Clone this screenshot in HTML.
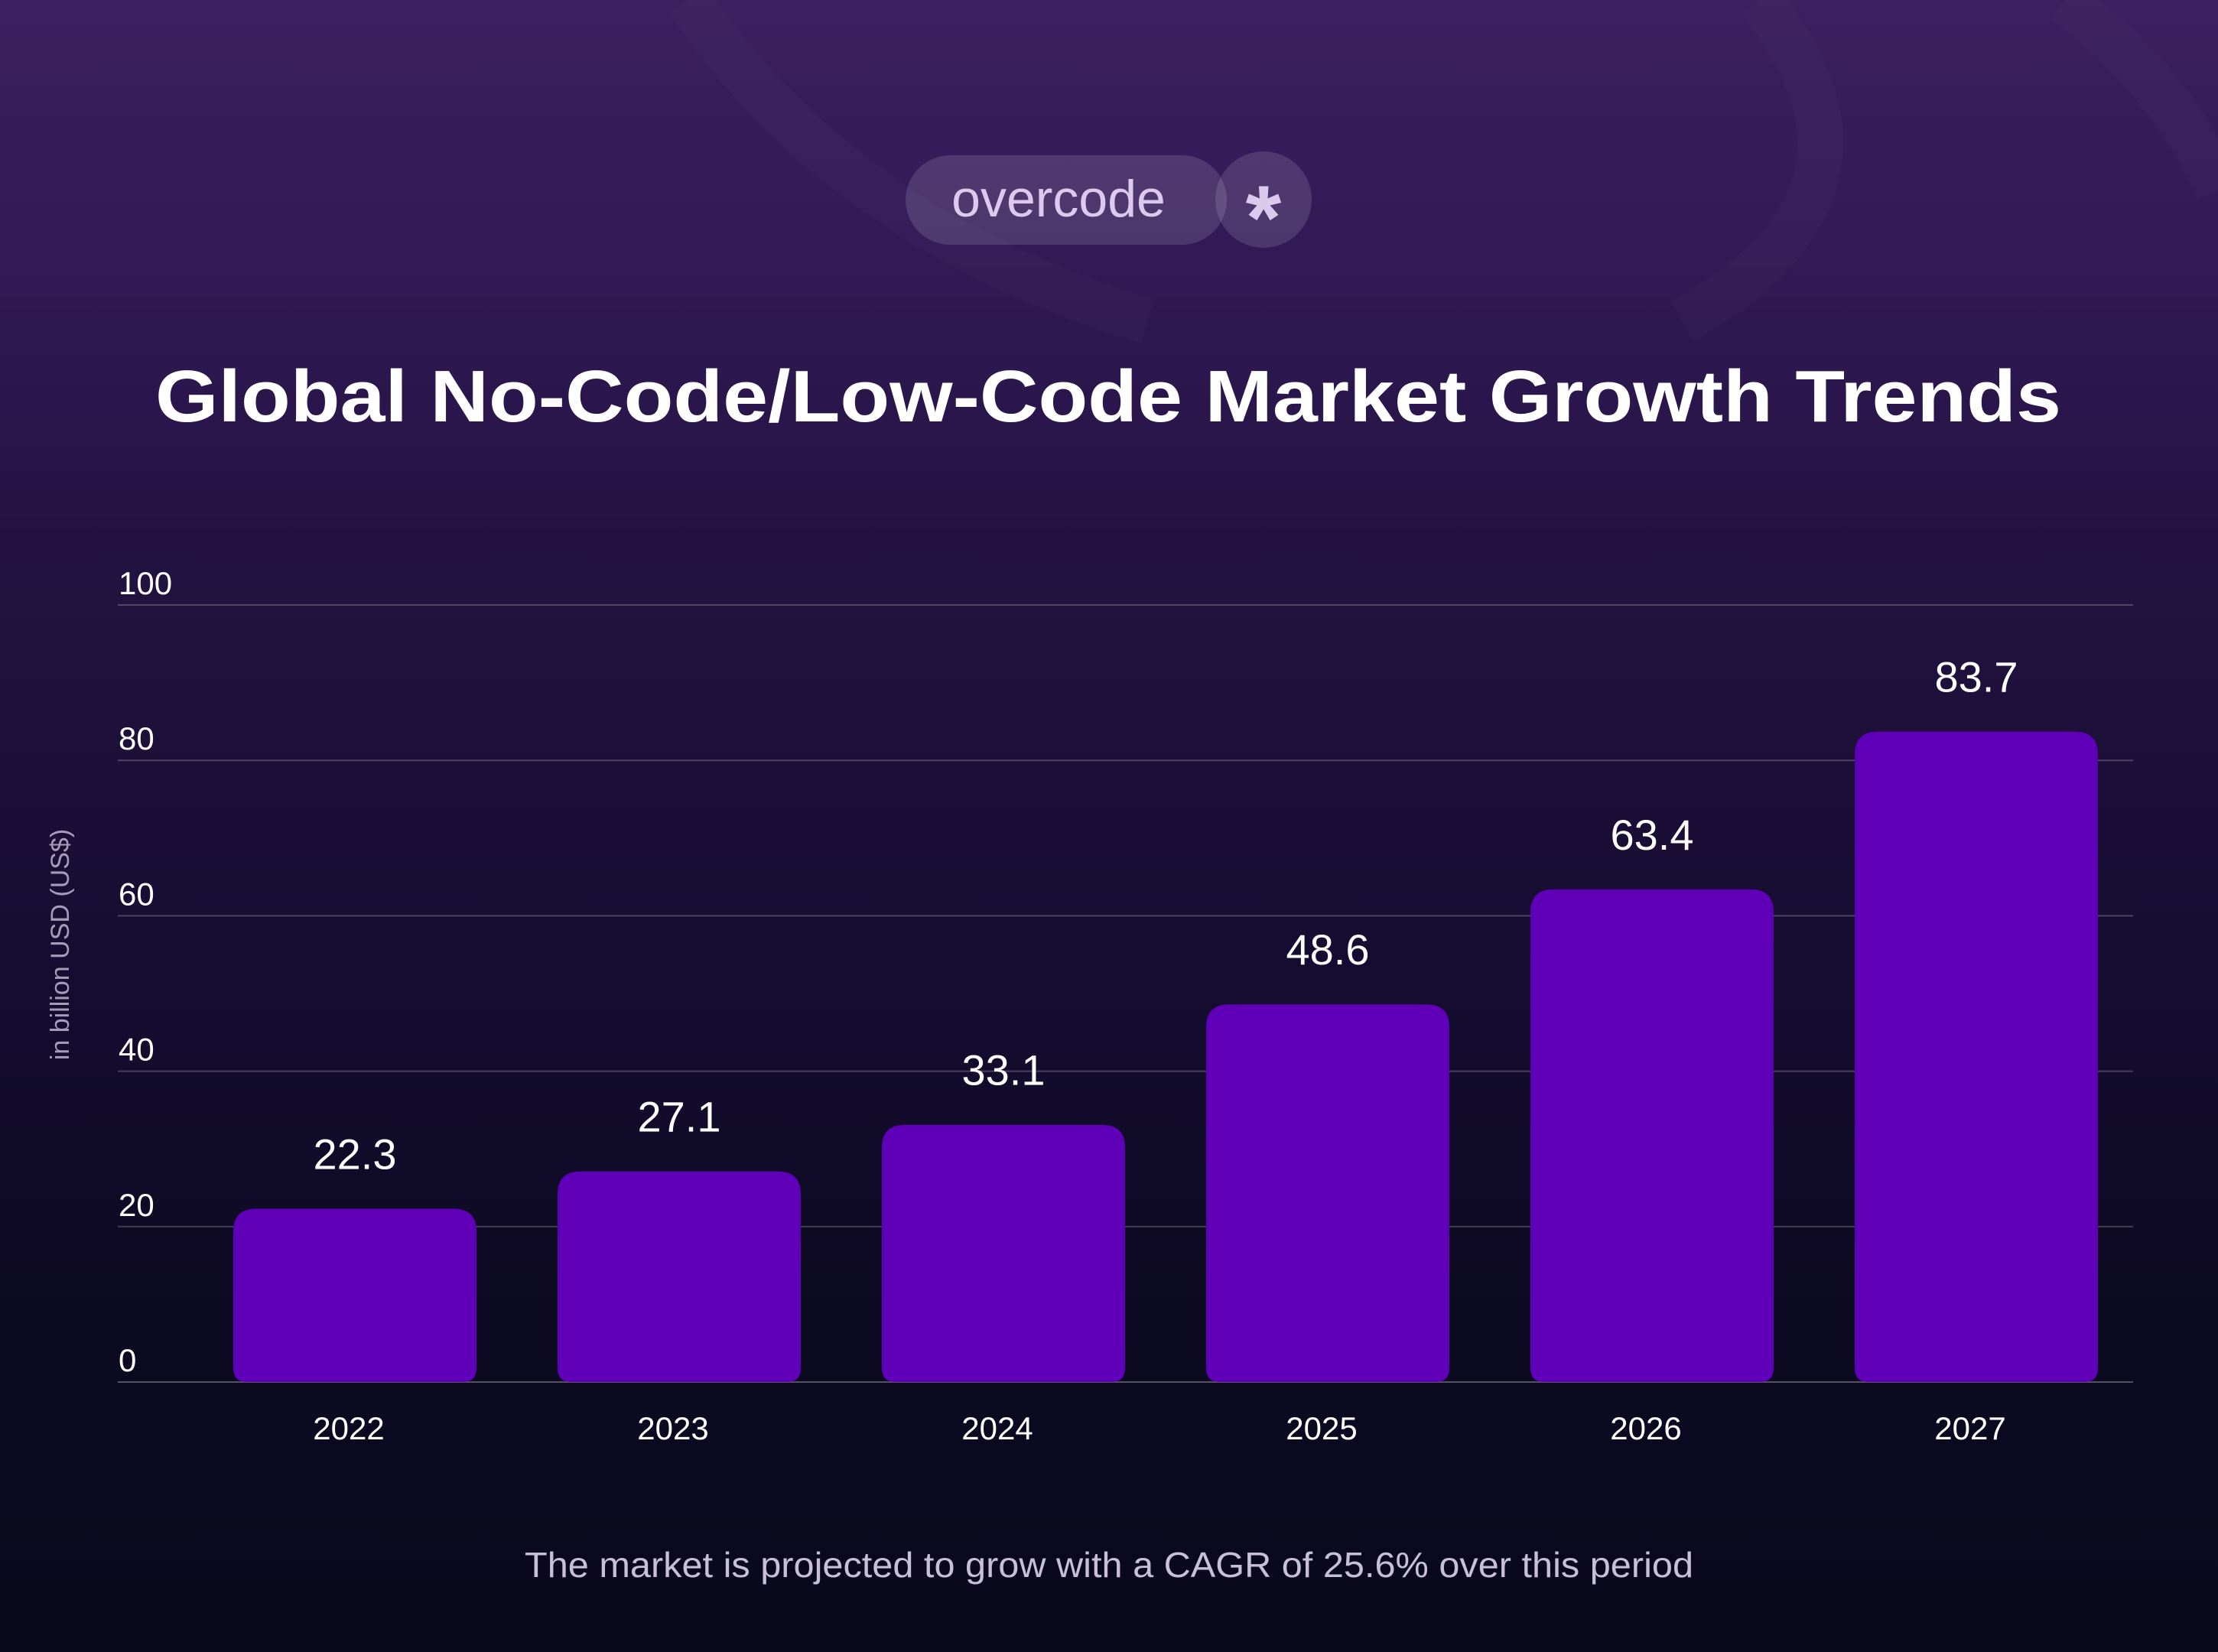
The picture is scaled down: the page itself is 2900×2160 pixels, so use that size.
<!DOCTYPE html>
<html><head><meta charset="utf-8">
<style>
html,body{margin:0;padding:0;width:2900px;height:2160px;overflow:hidden;}
body{background:linear-gradient(180deg,#3c1f60 0%,#321a57 15%,#22123f 35%,#150c30 60%,#0c0a22 80%,#09081c 100%);font-family:"Liberation Sans",sans-serif;}
svg{position:absolute;left:0;top:0;}
</style></head>
<body>
<svg id="chart" width="2900" height="2160" viewBox="0 0 2900 2160" xmlns="http://www.w3.org/2000/svg">
  <g fill="none" stroke="#ffffff" stroke-opacity="0.02" stroke-width="60">
    <path d="M900 0 Q1100 300 1500 420"/>
    <path d="M2300 0 Q2500 250 2200 420"/>
    <path d="M2700 0 Q2850 120 2900 250"/>
  </g>
  <g>
    <rect x="1184" y="203" width="420" height="117" rx="58.5" fill="#ffffff" fill-opacity="0.13"/>
    <circle cx="1652" cy="261" r="63" fill="#ffffff" fill-opacity="0.13"/>
    <text x="1384" y="283" text-anchor="middle" font-size="68" fill="#dccaee" font-family="Liberation Sans, sans-serif">overcode</text>
    <text x="1652" y="326" text-anchor="middle" font-size="120" font-weight="bold" fill="#dccaee">*</text>
  </g>
  <text x="203" y="551" textLength="2492" lengthAdjust="spacingAndGlyphs" font-size="96" font-weight="bold" fill="#ffffff">Global No-Code/Low-Code Market Growth Trends</text>
  <text transform="translate(90,1235) rotate(-90)" text-anchor="middle" font-size="34" fill="#a49cb8">in billion USD (US$)</text>
  <g id="grid"></g>
  <g id="bars"></g>
  <text x="686" y="2062" textLength="1528" lengthAdjust="spacingAndGlyphs" font-size="46" fill="#c8c0d8">The market is projected to grow with a CAGR of 25.6% over this period</text>
</svg>
<script>
const categories = ["2022","2023","2024","2025","2026","2027"];
const values = [22.3, 27.1, 33.1, 48.6, 63.4, 83.7];
const valueLabels = ["22.3","27.1","33.1","48.6","63.4","83.7"];
const ticks = [0,20,40,60,80,100];
const NS = "http://www.w3.org/2000/svg";
const y0 = 1807, yTop = 791, vmax = 100;
function yScale(v){ return y0 - (v / vmax) * (y0 - yTop); }
const bandStart = 305, bandStep = 424, barW = 318;
function xScale(i){ return bandStart + i * bandStep; }
const grid = document.getElementById('grid');
ticks.forEach(t => {
  const y = yScale(t);
  const l = document.createElementNS(NS,'line');
  l.setAttribute('x1',154); l.setAttribute('x2',2789);
  l.setAttribute('y1',y); l.setAttribute('y2',y);
  l.setAttribute('stroke','#ffffff'); l.setAttribute('stroke-opacity', t===0?'0.3':'0.22'); l.setAttribute('stroke-width','2');
  
  
  grid.appendChild(l);
  const tx = document.createElementNS(NS,'text');
  tx.setAttribute('x',155); tx.setAttribute('y',y-14);
  tx.setAttribute('font-size','42'); tx.setAttribute('fill','#ffffff');
  tx.textContent = String(t);
  
  
  grid.appendChild(tx);
});
const bars = document.getElementById('bars');
values.forEach((v,i) => {
  const x = xScale(i), y = yScale(v), r = 30, rb = 18;
  const p = document.createElementNS(NS,'path');
  p.setAttribute('d', `M${x} ${y+r} Q${x} ${y} ${x+r} ${y} L${x+barW-r} ${y} Q${x+barW} ${y} ${x+barW} ${y+r} L${x+barW} ${y0-rb} Q${x+barW} ${y0} ${x+barW-rb} ${y0} L${x+rb} ${y0} Q${x} ${y0} ${x} ${y0-rb} Z`);
  p.setAttribute('fill','#5f00b8');
  
  
  bars.appendChild(p);
  const vl = document.createElementNS(NS,'text');
  vl.setAttribute('x', x + barW/2); vl.setAttribute('y', y - 52);
  vl.setAttribute('text-anchor','middle'); vl.setAttribute('font-size','56'); vl.setAttribute('fill','#ffffff');
  vl.textContent = valueLabels[i];
  
  
  bars.appendChild(vl);
  const cl = document.createElementNS(NS,'text');
  cl.setAttribute('x', x + barW/2 - 8); cl.setAttribute('y', 1882);
  cl.setAttribute('text-anchor','middle'); cl.setAttribute('font-size','42'); cl.setAttribute('fill','#ffffff');
  cl.textContent = categories[i];
  
  
  bars.appendChild(cl);
});
</script>
</body></html>
